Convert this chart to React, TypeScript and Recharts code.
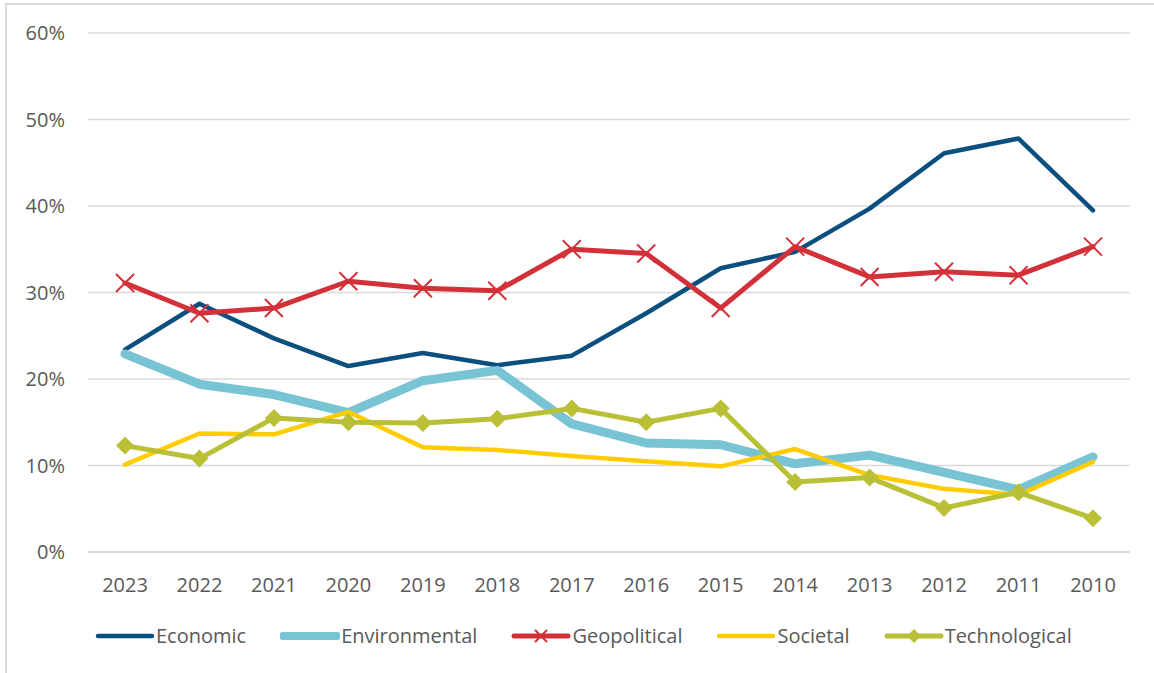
import React from 'react'
import { LineChart, Line, XAxis, YAxis, CartesianGrid } from 'recharts'

const years = ['2023', '2022', '2021', '2020', '2019', '2018', '2017', '2016', '2015', '2014', '2013', '2012', '2011', '2010']

const economic = [23.4, 28.7, 24.7, 21.5, 23.0, 21.6, 22.7, 27.6, 32.8, 34.7, 39.7, 46.1, 47.8, 39.5]
const environmental = [22.9, 19.4, 18.2, 16.1, 19.8, 21.0, 14.8, 12.6, 12.4, 10.2, 11.2, 9.2, 7.2, 11.0]
const geopolitical = [31.1, 27.6, 28.2, 31.3, 30.5, 30.2, 35.0, 34.5, 28.2, 35.3, 31.8, 32.4, 32.0, 35.3]
const societal = [10.1, 13.7, 13.6, 16.2, 12.1, 11.8, 11.1, 10.5, 9.9, 11.9, 8.9, 7.3, 6.6, 10.4]
const technological = [12.3, 10.8, 15.5, 15.0, 14.9, 15.4, 16.6, 15.0, 16.6, 8.1, 8.6, 5.1, 6.9, 3.9]

const yTicks = [0, 10, 20, 30, 40, 50, 60]

const data = years.map((year, i) => ({
  year,
  Economic: economic[i],
  Environmental: environmental[i],
  Geopolitical: geopolitical[i],
  Societal: societal[i],
  Technological: technological[i],
}))

const colors = {
  Economic: '#0B4F7E',
  Environmental: '#78C4D5',
  Geopolitical: '#D3313A',
  Societal: '#FFCC00',
  Technological: '#BAC036',
}

const font = '"Open Sans", "Noto Sans", sans-serif'
const textColor = '#595959'

function xPath(cx: number, cy: number, s: number) {
  return `M${cx - s},${cy - s}L${cx + s},${cy + s}M${cx + s},${cy - s}L${cx - s},${cy + s}`
}

function diamondPath(cx: number, cy: number, s: number) {
  return `M${cx},${cy - s}L${cx + s},${cy}L${cx},${cy + s}L${cx - s},${cy}Z`
}

const XDot = (props: any) => {
  const { cx, cy, index } = props
  if (cx == null || cy == null) return <g key={`x-${index}`} />
  return <path key={`x-${index}`} d={xPath(cx, cy, 9)} stroke={colors.Geopolitical} strokeWidth={2} fill="none" />
}

const DiamondDot = (props: any) => {
  const { cx, cy, index } = props
  if (cx == null || cy == null) return <g key={`d-${index}`} />
  return <path key={`d-${index}`} d={diamondPath(cx, cy, 9)} fill={colors.Technological} />
}

const legendItems = [
  { name: 'Economic', width: 4.5, marker: null },
  { name: 'Environmental', width: 8, marker: null },
  { name: 'Geopolitical', width: 5, marker: 'x' },
  { name: 'Societal', width: 4.5, marker: null },
  { name: 'Technological', width: 5, marker: 'diamond' },
]

function LegendRow() {
  return (
    <div
      style={{
        position: 'absolute',
        left: 95,
        top: 622,
        display: 'flex',
        alignItems: 'center',
        gap: 34,
        fontFamily: font,
        fontSize: 20,
        color: textColor,
        lineHeight: '28px',
      }}
    >
      {legendItems.map((item) => {
        const c = (colors as any)[item.name]
        return (
          <div key={item.name} style={{ display: 'flex', alignItems: 'center' }}>
            <svg width={60} height={24} style={{ marginRight: 1 }}>
              <line x1={3} y1={12} x2={57} y2={12} stroke={c} strokeWidth={item.width} strokeLinecap="round" />
              {item.marker === 'x' && <path d={xPath(30, 12, 6)} stroke={c} strokeWidth={2} fill="none" />}
              {item.marker === 'diamond' && <path d={diamondPath(30, 12, 7)} fill={c} />}
            </svg>
            <span>{item.name}</span>
          </div>
        )
      })}
    </div>
  )
}

export default function App() {
  return (
    <div style={{ position: 'absolute', left: 0, top: 0, width: 1154, height: 673, background: '#fff', overflow: 'hidden' }}>
      <div
        style={{
          position: 'absolute',
          left: 5,
          top: 3,
          width: 1200,
          height: 700,
          borderLeft: '2px solid #D9D9D9',
          borderTop: '2px solid #D9D9D9',
        }}
      />
      <div style={{ position: 'absolute', left: 0, top: 0 }}>
        <LineChart width={1154} height={673} data={data} margin={{ top: 33, right: 24, left: 0, bottom: 91 }}>
          <CartesianGrid vertical={false} stroke="#D9D9D9" strokeWidth={1.5} />
          <XAxis
            dataKey="year"
            height={30}
            padding={{ left: 37, right: 37 }}
            axisLine={{ stroke: '#D9D9D9', strokeWidth: 1.5 }}
            tickLine={false}
            tickMargin={20}
            interval={0}
            tick={{ fill: textColor, fontSize: 20, fontFamily: font }}
          />
          <YAxis
            width={88}
            domain={[0, 60]}
            ticks={yTicks}
            tickFormatter={(v) => `${v}%`}
            axisLine={false}
            tickLine={false}
            tickMargin={17}
            tick={{ fill: textColor, fontSize: 20, fontFamily: font }}
          />
          <Line dataKey="Economic" stroke={colors.Economic} strokeWidth={4.5} dot={false} strokeLinejoin="round" strokeLinecap="round" isAnimationActive={false} />
          <Line dataKey="Environmental" stroke={colors.Environmental} strokeWidth={9} dot={false} strokeLinejoin="round" strokeLinecap="round" isAnimationActive={false} />
          <Line dataKey="Geopolitical" stroke={colors.Geopolitical} strokeWidth={5} dot={XDot} activeDot={false} strokeLinejoin="round" strokeLinecap="round" isAnimationActive={false} />
          <Line dataKey="Societal" stroke={colors.Societal} strokeWidth={4.5} dot={false} strokeLinejoin="round" strokeLinecap="round" isAnimationActive={false} />
          <Line dataKey="Technological" stroke={colors.Technological} strokeWidth={5} dot={DiamondDot} activeDot={false} strokeLinejoin="round" strokeLinecap="round" isAnimationActive={false} />
        </LineChart>
      </div>
      <LegendRow />
    </div>
  )
}
